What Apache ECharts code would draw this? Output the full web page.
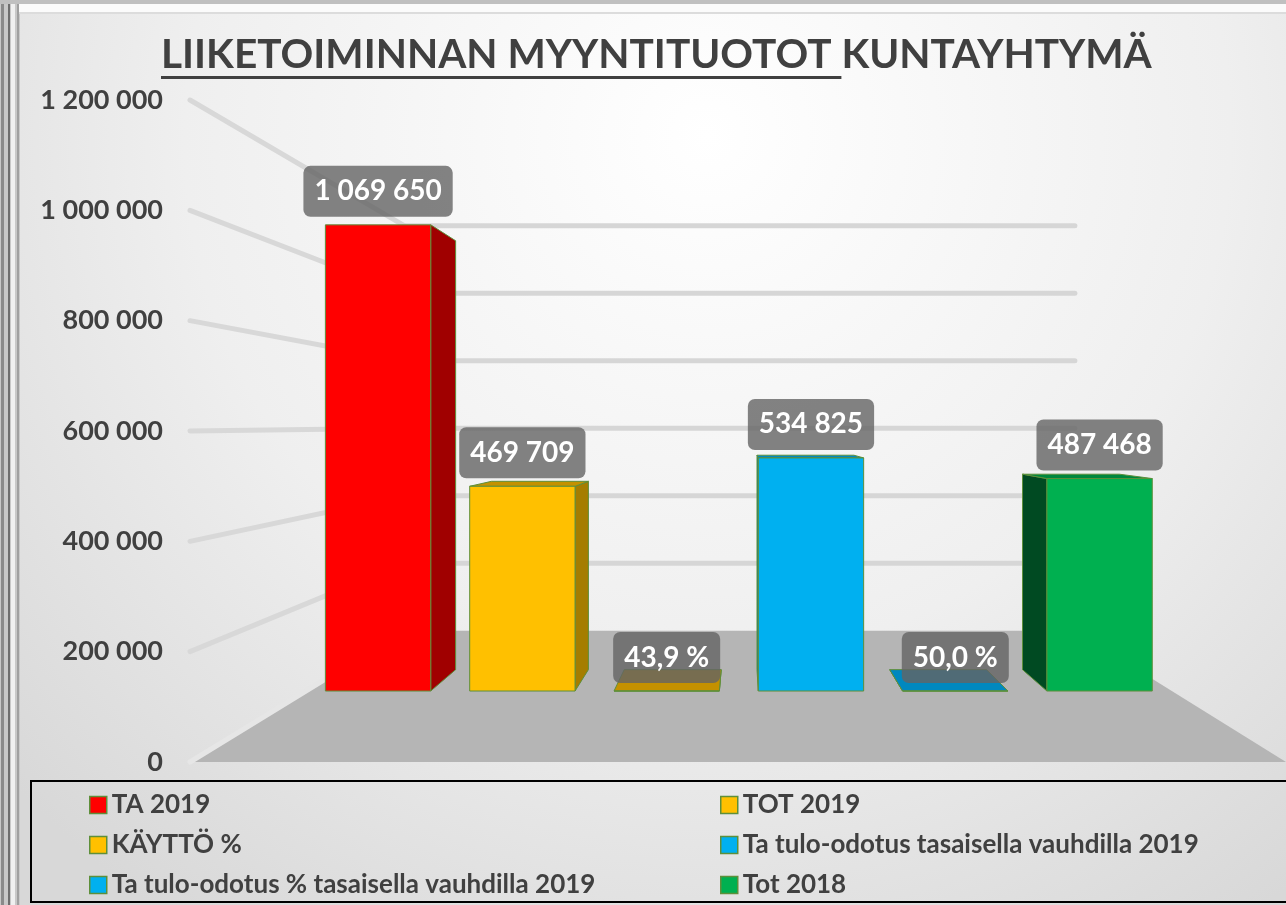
<!DOCTYPE html>
<html>
<head>
<meta charset="utf-8">
<title>Liiketoiminnan myyntituotot</title>
<script src="https://cdn.jsdelivr.net/npm/echarts@6/dist/echarts.min.js"></script>
<style>
  html, body { margin: 0; padding: 0; background: #e4e4e4; }
  #main { width: 1286px; height: 905px; }
</style>
</head>
<body>
<div id="main"></div>
<script type="text/javascript">
// data
var titleText = 'LIIKETOIMINNAN MYYNTITUOTOT KUNTAYHTYMÄ';
var titleUnderlined = 'LIIKETOIMINNAN MYYNTITUOTOT ';
var seriesNames = ['TA 2019', 'TOT 2019', 'KÄYTTÖ %',
    'Ta tulo-odotus tasaisella vauhdilla 2019',
    'Ta tulo-odotus % tasaisella vauhdilla 2019', 'Tot 2018'];
var seriesValues = [1069650, 469709, 0.439, 534825, 0.5, 487468];
var isPercent = [false, false, true, false, true, false];
var yTicks = [0, 200000, 400000, 600000, 800000, 1000000, 1200000];

// colours: front / side / top of each 3d column
var frontColors = ['#ff0000', '#ffc000', '#ffc000', '#00b0f0', '#00b0f0', '#00b050'];
var sideColors  = ['#a00000', '#a57d00', '#a57d00', '#0078a8', '#0078a8', '#004a22'];
var topColors   = ['#c00000', '#c49100', '#c49100', '#0089c2', '#0088bf', '#00873d'];

// fake perspective: the grid is the front (floor edge) plane,
// everything else is scaled toward a vanishing point
var VPX = 0.5036, VPY = 0.4894;   // vanishing point, as fraction of the grid
var F_BAR = 0.79;                  // column front plane
var DEPTH = 0.92;                  // column back / front
var F_BACK = 0.612;                // back wall
var BAR_RATIO = 0.73;

var myChart = echarts.init(document.getElementById('main'));

function vp(cs) { return [cs.x + cs.width * VPX, cs.y + cs.height * VPY]; }
function project(p, f, v) { return [v[0] + (p[0] - v[0]) * f, v[1] + (p[1] - v[1]) * f]; }

function fmtValue(v, pct) {
    if (pct) return (v * 100).toFixed(1).replace('.', ',') + ' %';
    return String(Math.round(v)).replace(/\B(?=(\d{3})+(?!\d))/g, ' ');
}

var ctx = document.createElement('canvas').getContext('2d');
function textWidth(s, font) { ctx.font = font; return ctx.measureText(s).width; }
var titleLeft = 161, titleRight = 1152;
var titleSize = 40 * (titleRight - titleLeft) / textWidth(titleText, 'bold 40px Lato');
var underlineW = textWidth(titleUnderlined, 'bold ' + titleSize + 'px Lato');

var edge = '#5e8f3a';

function renderBar(idx) {
    return function (params, api) {
        var cs = params.coordSys;
        var v = vp(cs);
        var cat = api.value(0), val = api.value(1);
        var base = api.coord([cat, 0]);
        var top = api.coord([cat, val]);
        var bw = api.size([1, 0])[0] * BAR_RATIO;
        var raw = [[base[0] - bw / 2, top[1]], [base[0] + bw / 2, top[1]],
                   [base[0] + bw / 2, base[1]], [base[0] - bw / 2, base[1]]];
        var F = raw.map(function (p) { return project(p, F_BAR, v); });
        var B = raw.map(function (p) { return project(p, F_BAR * DEPTH, v); });
        var kids = [];
        var st = function (c) { return { fill: c, stroke: edge, lineWidth: 1 }; };
        if (F[1][0] < v[0]) {
            kids.push({ type: 'polygon', shape: { points: [F[1], B[1], B[2], F[2]] }, style: st(sideColors[idx]) });
        }
        if (F[0][0] > v[0]) {
            kids.push({ type: 'polygon', shape: { points: [F[0], B[0], B[3], F[3]] }, style: st(sideColors[idx]) });
        }
        if (F[0][1] > v[1]) {
            kids.push({ type: 'polygon', shape: { points: [F[0], F[1], B[1], B[0]] }, style: st(topColors[idx]) });
        }
        kids.push({ type: 'polygon', shape: { points: F }, style: st(frontColors[idx]) });
        kids.push({
            type: 'text', z2: 100,
            x: (F[0][0] + F[1][0]) / 2, y: F[0][1] - 8,
            style: {
                text: fmtValue(val, isPercent[idx]),
                fill: '#ffffff', fontFamily: 'Lato', fontWeight: 'bold', fontSize: 28,
                lineHeight: 33, align: 'center', verticalAlign: 'bottom',
                backgroundColor: 'rgba(100,100,100,0.8)', borderRadius: 7, padding: [9, 11]
            }
        });
        return { type: 'group', children: kids };
    };
}

function renderWalls(params, api) {
    var cs = params.coordSys;
    var v = vp(cs);
    var val = api.value(0);
    var y = api.coord([0, val])[1];
    var front = [cs.x, y];
    var back = project(front, F_BACK, v);
    var backR = project([cs.x + cs.width, y], F_BACK, v);
    var kids = [{
        type: 'line', shape: { x1: front[0], y1: front[1], x2: back[0], y2: back[1] },
        style: { stroke: val === 0 ? '#e6e6e6' : '#d8d8d8', lineWidth: 5, lineCap: 'round' }
    }];
    if (val !== 0) {
        kids.push({
            type: 'line', shape: { x1: back[0], y1: back[1], x2: backR[0], y2: backR[1] },
            style: { stroke: '#d6d6d6', lineWidth: 5, lineCap: 'round' }
        });
    }
    return { type: 'group', children: kids };
}

function renderFloor(params, api) {
    var cs = params.coordSys;
    var v = vp(cs);
    var y = api.coord([0, 0])[1];
    var fl = [cs.x, y], fr = [cs.x + cs.width, y];
    return {
        type: 'polygon',
        shape: { points: [fl, fr, project(fr, F_BACK, v), project(fl, F_BACK, v)] },
        style: { fill: '#b5b5b5' }
    };
}

var series = [
    { type: 'custom', name: 'floor', renderItem: renderFloor, data: [[0]], silent: true, z: 1 },
    { type: 'custom', name: 'walls', renderItem: renderWalls,
      data: yTicks.map(function (t) { return [t]; }), silent: true, z: 1 }
];
seriesNames.forEach(function (n, i) {
    series.push({
        type: 'custom', name: n, z: 3,
        renderItem: renderBar(i),
        itemStyle: { color: frontColors[i] },
        data: [[i, seriesValues[i]]]
    });
});

var legendBase = {
    orient: 'vertical', top: 786, itemGap: 12, itemWidth: 17, itemHeight: 17, icon: 'rect',
    itemStyle: { borderColor: edge, borderWidth: 1.5 },
    textStyle: { fontFamily: 'Lato', fontWeight: 'bold', fontSize: 26, color: '#404040', lineHeight: 28 }
};

var option = {
    backgroundColor: {
        type: 'radial', x: 0.55, y: 0.15, r: 1.05,
        colorStops: [{ offset: 0, color: '#ffffff' }, { offset: 0.55, color: '#efefef' }, { offset: 1, color: '#d8d8d8' }]
    },
    animation: false,
    grid: { left: 190, right: 0, top: 100, bottom: 143 },
    xAxis: { type: 'category', data: seriesNames, show: false },
    yAxis: {
        type: 'value', min: 0, max: 1200000, interval: 200000,
        axisLine: { show: false }, axisTick: { show: false }, splitLine: { show: false },
        axisLabel: {
            margin: 27, color: '#404040', fontFamily: 'Lato', fontWeight: 'bold', fontSize: 27,
            formatter: function (v) { return fmtValue(v, false); }
        }
    },
    legend: [
        Object.assign({}, legendBase, { left: 84, data: [seriesNames[0], seriesNames[2], seriesNames[4]] }),
        Object.assign({}, legendBase, { left: 715, data: [seriesNames[1], seriesNames[3], seriesNames[5]] })
    ],
    graphic: [
        // frame
        { type: 'rect', shape: { x: 0, y: 0, width: 20, height: 905 }, style: { fill: '#c8c8c8' }, z: 0 },
        { type: 'rect', shape: { x: 1, y: 0, width: 3, height: 905 }, style: { fill: '#8a8a8a' }, z: 0 },
        { type: 'rect', shape: { x: 8, y: 0, width: 2, height: 905 }, style: { fill: '#6e6e6e' }, z: 0 },
        { type: 'rect', shape: { x: 11, y: 0, width: 4, height: 905 }, style: { fill: '#f0f0f0' }, z: 0 },
        { type: 'rect', shape: { x: 17, y: 0, width: 2, height: 905 }, style: { fill: '#a0a0a0' }, z: 0 },
        { type: 'rect', shape: { x: 0, y: 0, width: 1286, height: 4 }, style: { fill: '#c0c0c0' }, z: 0 },
        { type: 'rect', shape: { x: 19, y: 4, width: 1267, height: 8 }, style: { fill: '#fbfbfb' }, z: 0 },
        { type: 'rect', shape: { x: 19, y: 12, width: 1267, height: 2 }, style: { fill: '#dcdcdc' }, z: 0 },
        // title
        {
            type: 'text', x: titleLeft, y: 55, z: 5,
            style: {
                text: titleText, fill: '#404040', fontFamily: 'Lato', fontWeight: 'bold',
                fontSize: titleSize, align: 'left', verticalAlign: 'middle'
            }
        },
        { type: 'rect', shape: { x: titleLeft, y: 76, width: underlineW, height: 3 }, style: { fill: '#404040' }, z: 5 },
        // legend box
        {
            type: 'rect', shape: { x: 31, y: 781, width: 1270, height: 121 },
            style: { fill: 'none', stroke: '#000000', lineWidth: 2 }, z: 5
        }
    ],
    series: series
};

myChart.setOption(option);
</script>
</body>
</html>
